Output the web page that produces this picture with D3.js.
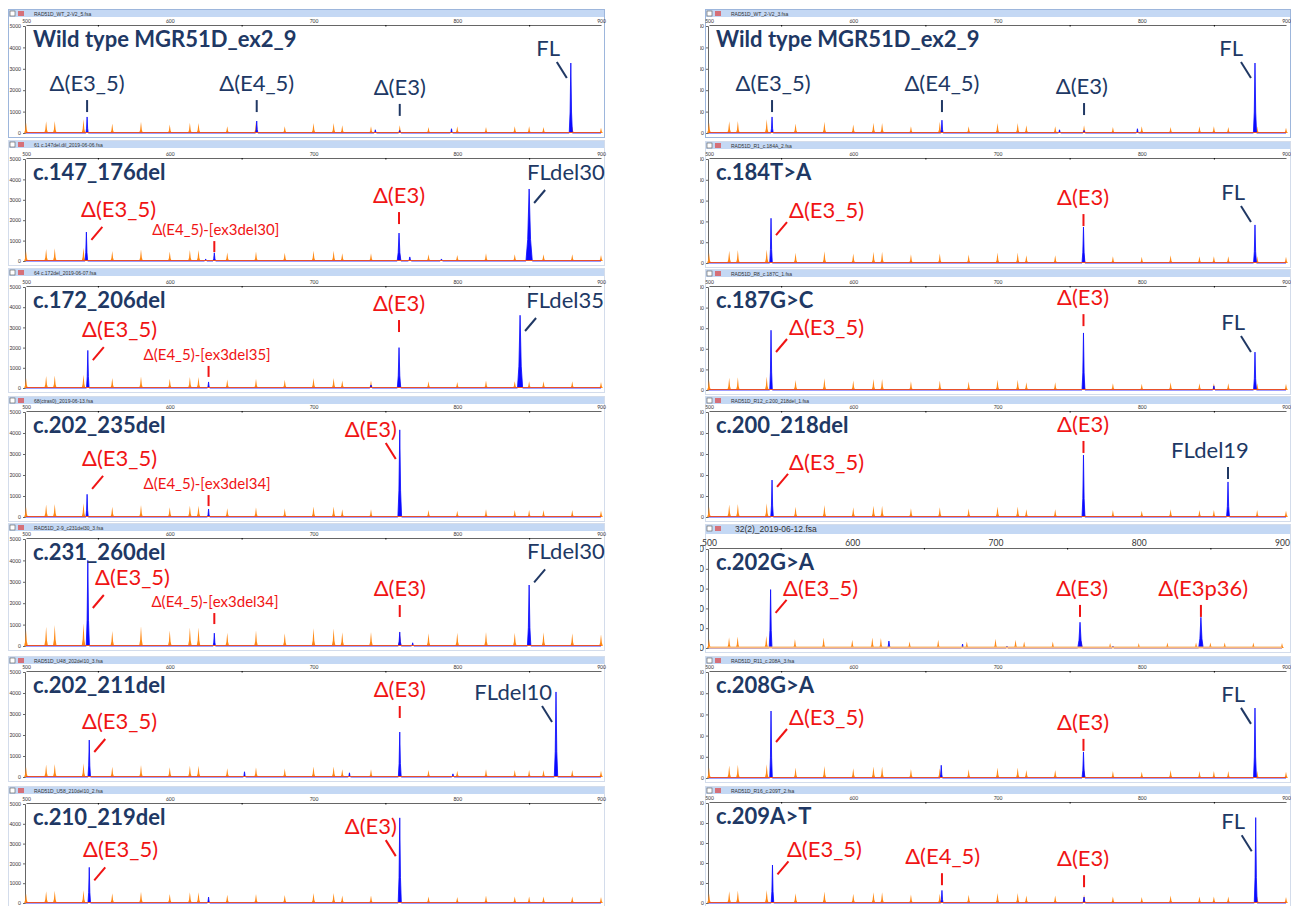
<!DOCTYPE html>
<html>
<head>
<meta charset="utf-8">
<script src="https://cdn.jsdelivr.net/npm/d3@7"></script>
<style>
  body { margin: 0; background: #fff; }
  text { font-family: Lato, "Open Sans", sans-serif; }
  .tiny { font-family: "Liberation Sans", Arial, sans-serif; font-size: 5px; fill: #333; }
</style>
</head>
<body>
<svg id="fig" width="1291" height="906"></svg>
<script>
// size standard (orange) fragment sizes, bp
const sizeStd = [500,514,520,540,560,580,600,614,620,640,660,680,700,714,720,740,760,780,800,820,840,850,860,880,900];
// orange peak heights (rfu) per ladder run
const ladderWT   = [500,550,560,640,440,520,400,480,470,310,520,310,470,470,360,310,360,280,310,280,310,310,280,300,250];
const ladderStd  = [490,590,620,650,490,570,460,540,540,420,460,410,500,500,375,375,420,330,300,375,330,330,330,330,300];
const ladderHigh = [750,900,980,1060,700,940,720,870,870,620,720,590,830,820,640,650,700,600,620,650,620,600,640,600,550];
const ladderLow  = [450,530,580,620,450,530,420,530,500,330,420,330,470,420,330,330,350,250,250,280,280,280,280,280,250];

// blue peaks: [bp, rfu, half width bp]
const bWT_L   = [[542.5,750,0.8],[660.5,560,0.8],[743,150,0.8],[760,120,0.8],[796,200,0.8],[879,3270,1.1]];
const b147    = [[542,1420,0.9],[625,100,0.8],[631,400,0.9],[759.5,1370,1.3],[767,200,1],[789,100,1],[850,3530,2.2]];
const b172    = [[543,1860,0.9],[627,300,0.8],[740,150,0.8],[759.5,2000,1.2],[843.7,3600,1.8]];
const b202_235= [[542.5,1080,0.8],[627,380,0.8],[760,4150,1.3]];
const b231    = [[543,4000,1.1],[631,600,0.8],[760,650,1.0],[769,150,0.8],[850,2850,1.2]];
const b202_211= [[544,1760,0.9],[652,250,0.8],[725,200,0.8],[760,2140,1.0],[797,150,0.8],[868.7,4050,1.2]];
const b210    = [[544,1800,0.9],[627,300,0.8],[760,4300,1.1]];
const bWT_R   = [[543.7,750,0.8],[661.5,600,0.8],[743,150,0.8],[760,120,0.8],[797,200,0.8],[878.5,3270,1.1]];
const b184    = [[543,2150,0.9],[759.6,1730,1.0],[878.5,1830,1.0]];
const b187    = [[543,2900,0.9],[759.6,2770,1.0],[850,200,0.8],[878.5,1840,1.0]];
const b200    = [[543.7,1760,0.9],[759.6,2950,1.0],[859.8,1670,1.0]];
const b202GA  = [[543,2950,1.0],[625.6,350,1.0],[677,200,0.8],[708,100,0.8],[759,1300,1.6],[782,100,0.8],[843.4,1550,1.6]];
const b208    = [[543,3160,0.9],[661,600,0.8],[759.6,1230,1.0],[878.5,3300,1.0]];
const b209    = [[544,1900,0.9],[661.5,630,0.8],[760,300,0.8],[879,4270,1.0]];

// annotations: [text, anchor bp, baseline rfu, connector kind, peak bp]
const aWT_L   = [["Δ(E3_5)",542.5,1960,"v",542.5],["Δ(E4_5)",660.5,1960,"v",660.5],["Δ(E3)",760,1780,"v",760],["FL",871.5,3600,"b",879]];
const a147    = [["Δ(E3_5)",538.3,2160,"s",542],["Δ(E4_5)-[ex3del30]",632,1270,"v",631],["Δ(E3)",759.5,2840,"v",759.5],["FLdel30",848.5,3970,"s",850]];
const a172    = [["Δ(E3_5)",539,2520,"s",543],["Δ(E4_5)-[ex3del35]",626,1390,"v",627],["Δ(E3)",759.5,3810,"v",759.5],["FLdel35",848,3960,"s",843.7]];
const a202_235= [["Δ(E3_5)",539,2430,"s",542.5],["Δ(E4_5)-[ex3del34]",626,1330,"v",627],["Δ(E3)",758,3810,"b",760]];
const a231    = [["Δ(E3_5)",548,2850,"s",543],["Δ(E4_5)-[ex3del34]",631.5,1820,"v",631],["Δ(E3)",760,2335,"v",760],["FLdel30",848.5,4050,"s",850]];
const a202_211= [["Δ(E3_5)",539,2285,"s",544],["Δ(E3)",760,3810,"v",760],["FLdel10",866,3665,"b",868.7]];
const a210    = [["Δ(E3_5)",539.7,2300,"s",544],["Δ(E3)",758,3480,"b",760]];
const aWT_R   = [["Δ(E3_5)",544.4,1960,"v",543.7],["Δ(E4_5)",661.5,1960,"v",661.5],["Δ(E3)",758.5,1820,"v",760],["FL",870.2,3600,"b",878.5]];
const a184    = [["Δ(E3_5)",555.5,2160,"s",543],["Δ(E3)",759.3,2785,"v",759.6],["FL",871.6,3025,"b",878.5]];
const a187    = [["Δ(E3_5)",555.5,2670,"s",543],["Δ(E3)",759.3,4120,"v",759.6],["FL",871.6,2910,"b",878.5]];
const a200    = [["Δ(E3_5)",555.5,2240,"s",543.7],["Δ(E3)",759.3,4050,"v",759.6],["FLdel19",847.3,2810,"v",859.8]];
const a202GA  = [["Δ(E3_5)",551.7,2630,"s",543],["Δ(E3)",760.4,2630,"v",759],["Δ(E3p36)",845,2630,"v",843.4]];
const a208    = [["Δ(E3_5)",555.5,2500,"s",543],["Δ(E3)",759.3,2270,"v",759.6],["FL",871.6,3590,"b",878.5]];
const a209    = [["Δ(E3_5)",554,2280,"s",544],["Δ(E4_5)",662,1940,"v",661.5],["Δ(E3)",759.3,1840,"v",760],["FL",871.6,3690,"b",879]];

const titlesL = ["Wild type MGR51D_ex2_9","c.147_176del","c.172_206del","c.202_235del","c.231_260del","c.202_211del","c.210_219del"];
const titlesR = ["Wild type MGR51D_ex2_9","c.184T>A","c.187G>C","c.200_218del","c.202G>A","c.208G>A","c.209A>T"];
const filesL = ["RAD51D_WT_2-V2_5.fsa","61 c.147del.dil_2019-06-06.fsa","64 c.172del_2019-06-07.fsa","68(ctras0)_2019-06-13.fsa","RAD51D_2-9_c231del30_3.fsa","RAD51D_U48_202del10_3.fsa","RAD51D_U58_210del10_2.fsa"];
const filesR = ["RAD51D_WT_2-V2_3.fsa","RAD51D_R1_c.184A_2.fsa","RAD51D_R8_c.187C_1.fsa","RAD51D_R12_c.200_218del_1.fsa","32(2)_2019-06-12.fsa","RAD51D_R11_c.208A_3.fsa","RAD51D_R16_c.209T_2.fsa"];
const yTicks = [0,1000,2000,3000,4000,5000];
const xTicks = [500,600,700,800,900];

const bluesL = [bWT_L,b147,b172,b202_235,b231,b202_211,b210];
const bluesR = [bWT_R,b184,b187,b200,b202GA,b208,b209];
const notesL = [aWT_L,a147,a172,a202_235,a231,a202_211,a210];
const notesR = [aWT_R,a184,a187,a200,a202GA,a208,a209];
const laddersL = [ladderWT,ladderStd,ladderStd,ladderStd,ladderHigh,ladderStd,ladderStd];
const laddersR = [ladderWT,ladderStd,ladderStd,ladderStd,ladderLow,ladderStd,ladderStd];

// layout
const topsL = [9,140,268,396,523,656,786], ybL = [133,261,388,517,646,777,903], ytL = [26,159,287,412,539,672,804];
const topsR = [9,141,269,396,524,656,786], ybR = [133,263,390,517,648,778,903], ytR = [26,159,287,412,549,672,803];

const NAVY = "#203864", RED = "#f01414", BLUE = "#0a0aff", ORANGE = "#ff8a17";
const svg = d3.select("#fig");
const defs = svg.append("defs");
defs.append("clipPath").attr("id", "clipR").append("rect").attr("x", 700).attr("y", 0).attr("width", 591).attr("height", 906);

const panels = [];
for (let i = 0; i < 7; i++) {
  panels.push({side: "L", fx0: 8, fx1: 605, x0: 26, x1: 601, top: topsL[i], yb: ybL[i], yt: ytL[i],
    title: titlesL[i], file: filesL[i], blue: bluesL[i], notes: notesL[i], ladder: laddersL[i], wt: i === 0});
  panels.push({side: "R", fx0: 705, fx1: 1291, x0: 709, x1: i === 4 ? 1282 : 1286, top: topsR[i], yb: ybR[i], yt: ytR[i],
    title: titlesR[i], file: filesR[i], blue: bluesR[i], notes: notesR[i], ladder: laddersR[i], wt: i === 0, big: i === 4});
}

function peakPts(peaks) {
  const pts = [[500, 0]];
  peaks.slice().sort((a, b) => a[0] - b[0]).forEach(([bp, h, w]) => {
    pts.push([bp - w, 0], [bp - w * 0.45, h * 0.3], [bp, h], [bp + w * 0.45, h * 0.3], [bp + w, 0]);
  });
  pts.push([900, 0]);
  return pts;
}

panels.forEach(p => {
  const g = svg.append("g");
  if (p.side === "R") g.attr("clip-path", "url(#clipR)");
  const x = d3.scaleLinear().domain([500, 900]).range([p.x0, p.x1]);
  const y = d3.scaleLinear().domain([0, 5000]).range([p.yb, p.yt]);
  const fw = p.fx1 - p.fx0;

  // frame + header
  g.append("rect").attr("x", p.fx0 + 0.5).attr("y", p.top + 0.5).attr("width", fw - 1).attr("height", p.yb + 4 - p.top)
    .attr("fill", "#fff").attr("stroke", p.wt ? "#9db6dc" : "#d3dceb");
  g.append("rect").attr("x", p.fx0 + 1).attr("y", p.top + 1).attr("width", fw - 2).attr("height", p.big ? 9 : 7)
    .attr("fill", "#c4d8f4");
  g.append("rect").attr("x", p.fx0 + 2).attr("y", p.top + 2).attr("width", 5).attr("height", 5)
    .attr("fill", "#fff").attr("stroke", "#555").attr("stroke-width", 0.6);
  g.append("rect").attr("x", p.fx0 + 10).attr("y", p.top + 2).attr("width", 6).attr("height", 5)
    .attr("fill", "#d44").attr("opacity", 0.7);
  g.append("text").attr("class", "tiny").attr("x", p.fx0 + (p.big ? 30 : 26)).attr("y", p.top + (p.big ? 8 : 6.5))
    .style("font-size", p.big ? "8.5px" : "5px").text(p.file);

  // axes
  const fs = p.big ? "8.5px" : "5px";
  const ax = g.append("g").attr("transform", `translate(0,${p.yt - 1})`)
    .call(d3.axisTop(x).tickValues(xTicks).tickSize(0).tickPadding(2));
  ax.select(".domain").attr("stroke", "#666");
  ax.selectAll("text").attr("font-family", "Liberation Sans, Arial").style("font-size", fs).attr("fill", "#333");
  g.append("g").attr("transform", `translate(0,${p.yt - 1})`)
    .call(d3.axisBottom(x).tickValues([550,650,750,850]).tickSize(1.5).tickFormat(""))
    .select(".domain").remove();
  const ay = g.append("g").attr("transform", `translate(${p.x0 - 1},0)`)
    .call(d3.axisLeft(y).tickValues(yTicks).tickSize(2).tickPadding(2).tickFormat(d3.format("d")));
  ay.select(".domain").attr("stroke", "#666");
  ay.selectAll("text").attr("font-family", "Liberation Sans, Arial").style("font-size", fs).attr("fill", "#333");
  ay.selectAll(".tick line").attr("stroke", "#666");

  // traces
  const area = d3.area().x(d => x(d[0])).y0(y(0)).y1(d => y(d[1]));
  const line = d3.line().x(d => x(d[0])).y(d => y(d[1]));
  const ladderPeaks = sizeStd.map((bp, k) => [bp, p.ladder[k], 1.3]);
  g.append("path").datum(peakPts(ladderPeaks)).attr("d", area).attr("fill", ORANGE);
  const bpts = peakPts(p.blue);
  g.append("path").datum(bpts).attr("d", area).attr("fill", BLUE);
  g.append("path").datum(bpts).attr("d", line).attr("fill", "none").attr("stroke", BLUE).attr("stroke-width", 0.8);
  g.append("line").attr("x1", x(500)).attr("x2", x(900)).attr("y1", y(0) - 0.5).attr("y2", y(0) - 0.5)
    .attr("stroke", p.big ? "#f9b879" : "#e8502a").attr("stroke-width", p.big ? 2 : 1);

  // title
  g.append("text").attr("x", p.x0 + 7).attr("y", p.yt + 21).attr("fill", NAVY)
    .attr("font-weight", "bold").style("font-size", "22px").text(p.title);

  // annotations
  p.notes.forEach(([txt, bp, rfu, kind, pk]) => {
    const col = (p.wt || txt.startsWith("FL")) ? NAVY : RED;
    const small = txt.includes("[");
    const bx = x(bp), by = y(rfu), px = x(pk);
    const anchor = kind === "v" ? "middle" : kind === "s" ? "start" : "end";
    g.append("text").attr("x", bx).attr("y", by).attr("text-anchor", anchor).attr("fill", col)
      .style("font-size", small ? "15px" : "22px").text(txt);
    let c;
    if (kind === "v") c = small ? [px, by + 6, px, by + 17] : [px, by + 9, px, by + 21];
    else if (kind === "s") {
      const d0 = bx > px + 8 ? 4 : 10;
      c = [px + 5, by + d0 + 13, px + 16, by + d0];
    } else c = [px - 14, by + 6, px - 4, by + 22];
    g.append("line").attr("x1", c[0]).attr("y1", c[1]).attr("x2", c[2]).attr("y2", c[3])
      .attr("stroke", col).attr("stroke-width", 2);
  });
});
</script>
</body>
</html>
